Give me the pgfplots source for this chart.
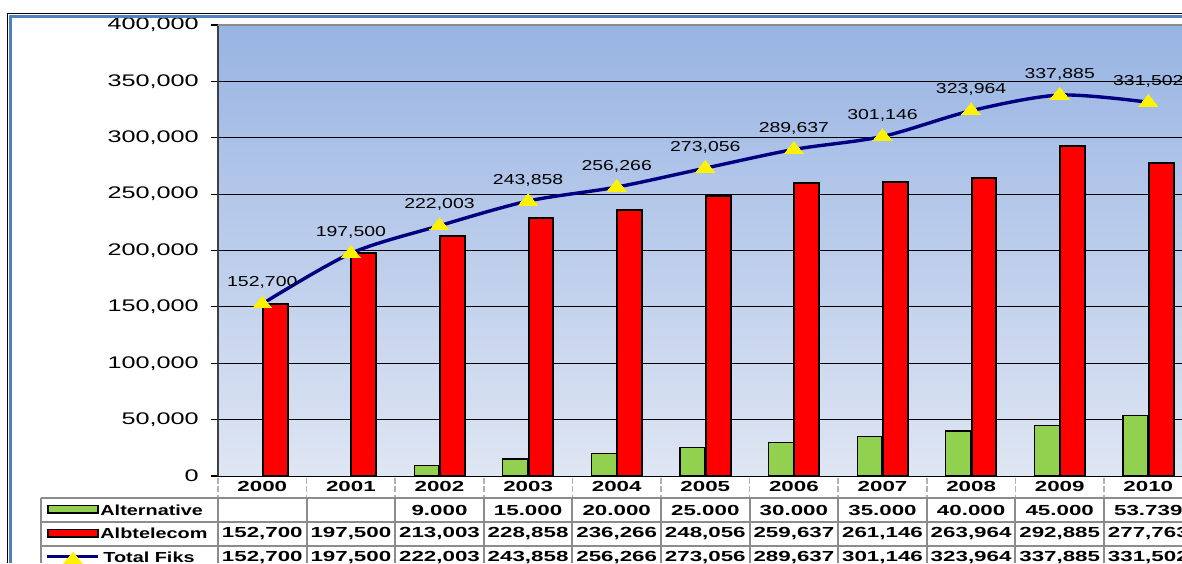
\documentclass[border=0pt]{standalone}
\usepackage{pgfplots}
\pgfplotsset{compat=1.18}
\usepackage{pgfplotstable}
\usepackage{graphicx}
\usepackage{fontspec}
\setmainfont{Liberation Sans}

\definecolor{altgreen}{HTML}{92D050}
\definecolor{navy}{HTML}{000080}
\definecolor{bgtop}{HTML}{98B4E3}
\definecolor{bgbot}{HTML}{DFE6F3}
\definecolor{framebl}{HTML}{4F81BD}
\definecolor{tblgray}{HTML}{8C8C8C}

\pgfplotstableread{
x alt
2 9000
3 15000
4 20000
5 25000
6 30000
7 35000
8 40000
9 45000
10 53739
}\altdata

\pgfplotstableread{
x alb
0 152700
1 197500
2 213003
3 228858
4 236266
5 248056
6 259637
7 261146
8 263964
9 292885
10 277763
}\albdata

\pgfplotstableread{
x tot label
0 152700 152,700
1 197500 197,500
2 222003 222,003
3 243858 243,858
4 256266 256,266
5 273056 273,056
6 289637 289,637
7 301146 301,146
8 323964 323,964
9 337885 337,885
10 331502 331,502
}\totdata

\newcommand\tfont{\fontsize{7.3}{8}\selectfont\bfseries}
\newcommand\tcell[3]{\node[font=\tfont,inner sep=0pt] at ({262.3+#1*88.6},#2) {\scalebox{1.53}[1]{#3}};}

\begin{document}
\begin{tikzpicture}
\useasboundingbox (-109pt,-43.5pt) rectangle (482pt,238pt);
\fill[white] (-109pt,-43.5pt) rectangle (482pt,238pt);
\clip (-109pt,-43.5pt) rectangle (482pt,238pt);
\begin{axis}[
  at={(0pt,0pt)}, anchor=south west,
  scale only axis, width=487.3pt, height=225.5pt,
  xmin=-0.5, xmax=10.5, ymin=0, ymax=400000,
  axis background/.style={shade, top color=bgtop, bottom color=bgbot},
  axis line style={draw=none},
  xtick=\empty,
  ytick={0,50000,...,400000},
  ytick pos=left, tick align=outside, major tick length=3.5pt,
  ytick style={black, line width=0.6pt},
  scaled y ticks=false,
  ymajorgrids, grid style={black, line width=0.5pt},
  yticklabel style={font=\fontsize{8.4}{9}\selectfont, inner sep=1pt, xshift=-5pt},
  yticklabel={\scalebox{1.5}[1]{\pgfmathprintnumber[fixed,precision=0,1000 sep={,},assume math mode=true]{\tick}}},
]
\addplot[ybar, bar width=0.28, bar shift=-0.145, fill=altgreen, draw=black, line width=0.6pt] table[x=x,y=alt] {\altdata};
\addplot[ybar, bar width=0.28, bar shift=0.145, fill=red, draw=black, line width=1pt] table[x=x,y=alb] {\albdata};
\addplot[navy, line width=1.7pt, smooth, mark=triangle*, mark size=5.5pt,
  mark options={fill=yellow, draw=yellow, line width=0pt, yscale=0.72},
  point meta=explicit symbolic,
  nodes near coords={\scalebox{1.35}[1]{\pgfplotspointmeta}},
  every node near coord/.style={font=\fontsize{7.2}{8}\selectfont, black, anchor=center, yshift=10.5pt, inner sep=0pt}]
  table[x=x,y=tot,meta=label] {\totdata};
\end{axis}
\begin{scope}[x=0.5pt, y=-0.5pt, shift={(-109pt,238pt)}]
  \draw[black, line width=0.5pt] (8,563) -- (8,14) -- (1182,14);
  \draw[framebl, line width=1.3pt] (10.6,563) -- (10.6,16.3) -- (1182,16.3);
  \draw[black!75, line width=1pt] (218,25) -- (218,476);
  \draw[black!45, line width=1pt] (218,25) -- (1182,25);
  \foreach \i in {0,...,11} {
    \draw[gray!60, line width=0.8pt, dash pattern=on 3pt off 1.2pt] ({218+\i*88.6},478) -- ({218+\i*88.6},497);
  }
  \foreach \yy in {498,521.7,545.7} {
    \draw[tblgray, line width=1pt] (41,\yy) -- (1182,\yy);
  }
  \draw[tblgray, line width=1pt] (41,498) -- (41,563);
  \foreach \i in {0,...,11} {
    \draw[tblgray, line width=1pt] ({218+\i*88.6},498) -- ({218+\i*88.6},563);
  }
  \draw[black, line width=0.8pt, fill=altgreen] (48,505.5) rectangle (98,513);
  \draw[black, line width=0.8pt, fill=red] (48,529.5) rectangle (98,537);
  \draw[navy, line width=1.7pt] (47,556.5) -- (98,556.5);
  \fill[yellow] (63,564) -- (73,551.5) -- (83,564) -- cycle;
  \node[font=\tfont, anchor=west, inner sep=0pt] at (100,510) {\scalebox{1.36}[1]{Alternative}};
  \node[font=\tfont, anchor=west, inner sep=0pt] at (100,533.5) {\scalebox{1.36}[1]{Albtelecom}};
  \node[font=\tfont, anchor=west, inner sep=0pt] at (103,557.5) {\scalebox{1.36}[1]{Total Fiks}};
  \tcell{0}{486.5}{2000}\tcell{1}{486.5}{2001}\tcell{2}{486.5}{2002}\tcell{3}{486.5}{2003}
  \tcell{4}{486.5}{2004}\tcell{5}{486.5}{2005}\tcell{6}{486.5}{2006}\tcell{7}{486.5}{2007}
  \tcell{8}{486.5}{2008}\tcell{9}{486.5}{2009}\tcell{10}{486.5}{2010}
  \tcell{2}{510}{9.000}\tcell{3}{510}{15.000}\tcell{4}{510}{20.000}\tcell{5}{510}{25.000}
  \tcell{6}{510}{30.000}\tcell{7}{510}{35.000}\tcell{8}{510}{40.000}\tcell{9}{510}{45.000}
  \tcell{10}{510}{53.739}
  \tcell{0}{533.5}{152,700}\tcell{1}{533.5}{197,500}\tcell{2}{533.5}{213,003}\tcell{3}{533.5}{228,858}
  \tcell{4}{533.5}{236,266}\tcell{5}{533.5}{248,056}\tcell{6}{533.5}{259,637}\tcell{7}{533.5}{261,146}
  \tcell{8}{533.5}{263,964}\tcell{9}{533.5}{292,885}\tcell{10}{533.5}{277,763}
  \tcell{0}{557.5}{152,700}\tcell{1}{557.5}{197,500}\tcell{2}{557.5}{222,003}\tcell{3}{557.5}{243,858}
  \tcell{4}{557.5}{256,266}\tcell{5}{557.5}{273,056}\tcell{6}{557.5}{289,637}\tcell{7}{557.5}{301,146}
  \tcell{8}{557.5}{323,964}\tcell{9}{557.5}{337,885}\tcell{10}{557.5}{331,502}
\end{scope}
\end{tikzpicture}
\end{document}
